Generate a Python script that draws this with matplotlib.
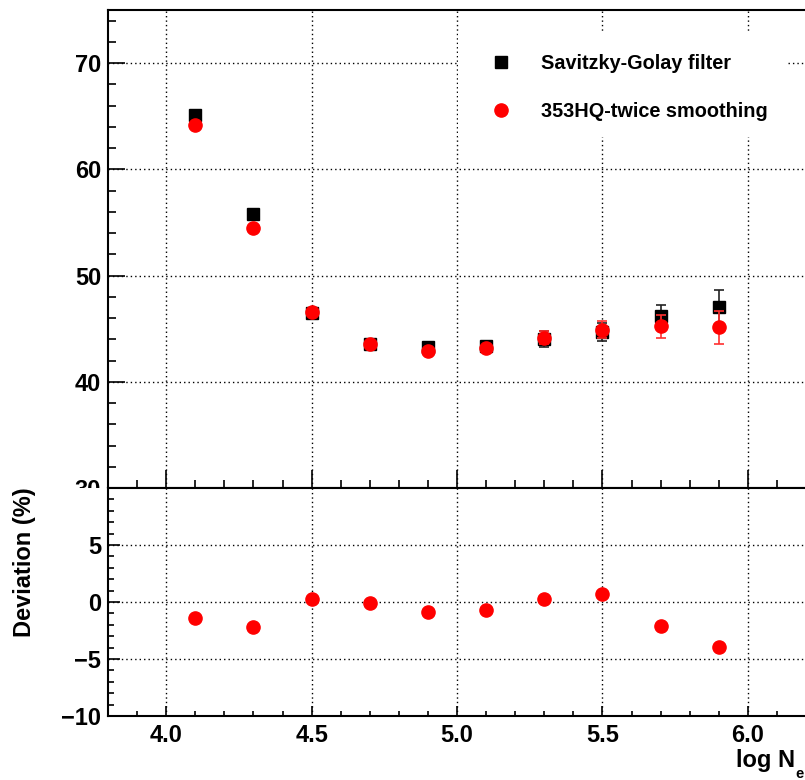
import matplotlib
matplotlib.use("Agg")
import matplotlib.pyplot as plt
from matplotlib.patches import Rectangle
from matplotlib.ticker import MultipleLocator

plt.rcParams['font.family'] = ['Liberation Sans', 'DejaVu Sans']
plt.rcParams['font.weight'] = 'bold'

# shower size bins (log10 Ne)
log_ne = [4.1, 4.3, 4.5, 4.7, 4.9, 5.1, 5.3, 5.5, 5.7, 5.9]

# Savitzky-Golay filter results
sg_val = [65.1, 55.75, 46.5, 43.6, 43.25, 43.4, 44.04, 44.66, 46.17, 47.02]
sg_err = [0.2, 0.2, 0.25, 0.25, 0.3, 0.3, 0.72, 0.85, 1.07, 1.64]

# 353HQ-twice smoothing results
hq_val = [64.15, 54.5, 46.6, 43.6, 42.9, 43.2, 44.13, 44.92, 45.23, 45.13]
hq_err = [0.2, 0.2, 0.25, 0.25, 0.3, 0.3, 0.62, 0.78, 1.1, 1.57]

# relative deviation between the two methods (%)
deviation = [-1.4, -2.2, 0.3, -0.06, -0.85, -0.73, 0.26, 0.67, -2.08, -3.97]

W, H = 805, 780
fig = plt.figure(figsize=(W / 100, H / 100), dpi=100)

left = 108 / W
width = (806 - 108) / W
ax1 = fig.add_axes([left, 1 - 488 / H, width, (488 - 10) / H], zorder=0)
ax2 = fig.add_axes([left, 1 - 716 / H, width, (716 - 488) / H], zorder=2)

# white band hiding the upper panel's labels that reach into the lower pad
fig.patches.append(Rectangle((0, 0), left, 1 - 488 / H, transform=fig.transFigure,
                             facecolor='white', edgecolor='none', zorder=1))

grid_kw = dict(color='black', linestyle=(0, (1, 2.2)), linewidth=1.0)
lbl = 17

for ax in (ax1, ax2):
    ax.set_xlim(3.8, 6.2)
    ax.xaxis.set_major_locator(MultipleLocator(0.5))
    ax.xaxis.set_minor_locator(MultipleLocator(0.1))
    ax.grid(True, which='major', **grid_kw)
    ax.set_axisbelow(True)
    for s in ('left', 'top', 'bottom'):
        ax.spines[s].set_linewidth(1.5)
    ax.spines['right'].set_visible(False)
    ax.tick_params(which='both', direction='in', width=1.2, right=False, top=False)

# upper panel
ax1.set_ylim(30, 75)
ax1.yaxis.set_major_locator(MultipleLocator(10))
ax1.yaxis.set_minor_locator(MultipleLocator(2))
ax1.tick_params(axis='x', which='major', length=13, labelbottom=False)
ax1.tick_params(axis='x', which='minor', length=6)
ax1.tick_params(axis='y', which='major', length=12.5, pad=5, labelsize=lbl)
ax1.tick_params(axis='y', which='minor', length=6)

ax1.errorbar(log_ne, sg_val, yerr=sg_err, fmt='s', color='black', ecolor='#222222',
             markersize=9.2, elinewidth=1.2, capsize=3.5, capthick=1.2, zorder=3,
             label='Savitzky-Golay filter')
ax1.errorbar(log_ne, hq_val, yerr=hq_err, fmt='o', color='#ff0000', ecolor='#ff3030',
             markersize=9.5, elinewidth=1.2, capsize=3.5, capthick=1.2, zorder=4,
             label='353HQ-twice smoothing')

# white box behind the legend
ax1.add_patch(Rectangle((0.5014, 0.7343), 0.4726, 0.2176, transform=ax1.transAxes,
                        facecolor='white', edgecolor='none', zorder=2.5))
handles, labels = ax1.get_legend_handles_labels()
handles = [h[0] for h in handles]
leg = ax1.legend(handles, labels, loc='upper left', bbox_to_anchor=(0.535, 0.925),
                 frameon=False, prop=dict(size=14.3, weight='bold'),
                 handletextpad=1.4, labelspacing=1.45, handlelength=1.2,
                 borderaxespad=0)
leg.set_zorder(5)

# lower panel
ax2.set_ylim(-10, 10)
ax2.yaxis.set_major_locator(MultipleLocator(5))
ax2.yaxis.set_minor_locator(MultipleLocator(1))
ax2.set_yticks([-10, -5, 0, 5])
ax2.set_yticklabels(['\u221210', '\u22125', '0', '5'])
ax2.tick_params(axis='x', which='major', length=7, pad=6, labelsize=lbl)
ax2.tick_params(axis='x', which='minor', length=3.5)
ax2.tick_params(axis='y', which='major', length=8.5, pad=5, labelsize=lbl)
ax2.tick_params(axis='y', which='minor', length=4.3)
ax2.set_xticks([4.0, 4.5, 5.0, 5.5, 6.0])
ax2.set_xticklabels(['4.0', '4.5', '5.0', '5.5', '6.0'])

ax2.plot(log_ne, deviation, 'o', color='#ff0000', markersize=9.5, zorder=3)

fig.text(24 / W, 1 - 562 / H, 'Deviation (%)', rotation=90, ha='center', va='center',
         fontsize=lbl, fontweight='bold')
fig.text(795 / W, 1 - 767 / H, 'log N', ha='right', va='baseline',
         fontsize=lbl, fontweight='bold')
fig.text(804 / W, 1 - 778 / H, 'e', ha='right', va='baseline',
         fontsize=10.5, fontweight='bold')

fig.savefig('out.png', dpi=100, facecolor='white')
